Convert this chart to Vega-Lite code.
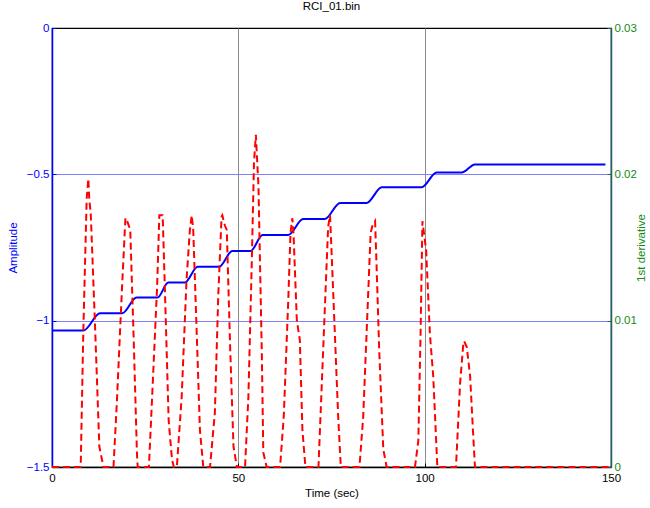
{
  "$schema": "https://vega.github.io/schema/vega-lite/v6.json",
  "width": 559,
  "height": 439,
  "autosize": {"type": "none"},
  "padding": {"left": 52, "top": 28, "right": 39, "bottom": 41},
  "background": "white",
  "title": {
    "text": "RCI_01.bin",
    "fontSize": 11.5,
    "fontWeight": "normal",
    "font": "Liberation Sans",
    "color": "black",
    "offset": 10
  },
  "config": {
    "font": "Liberation Sans",
    "view": {"stroke": "black", "strokeWidth": 1.2},
    "axis": {
      "labelFont": "Liberation Sans",
      "titleFont": "Liberation Sans",
      "labelFontSize": 11.5,
      "titleFontSize": 11.5,
      "titleFontWeight": "normal",
      "labelFlush": false,
      "domainWidth": 1.5,
      "tickWidth": 1,
      "tickSize": -4
    }
  },
  "datasets": {
    "amplitude": [
      {"t": 0, "amp": -1.034},
      {"t": 8.4, "amp": -1.034},
      {"t": 12.9, "amp": -0.975},
      {"t": 18.8, "amp": -0.975},
      {"t": 22.7, "amp": -0.921},
      {"t": 28.3, "amp": -0.921},
      {"t": 31.2, "amp": -0.87},
      {"t": 35.6, "amp": -0.87},
      {"t": 39.1, "amp": -0.816},
      {"t": 44.8, "amp": -0.816},
      {"t": 48.4, "amp": -0.762},
      {"t": 53.3, "amp": -0.762},
      {"t": 56.5, "amp": -0.707},
      {"t": 63.4, "amp": -0.707},
      {"t": 67.4, "amp": -0.653},
      {"t": 73.2, "amp": -0.653},
      {"t": 77.3, "amp": -0.598},
      {"t": 84.4, "amp": -0.598},
      {"t": 88.5, "amp": -0.544},
      {"t": 99.2, "amp": -0.544},
      {"t": 103.2, "amp": -0.494},
      {"t": 109.9, "amp": -0.494},
      {"t": 113.5, "amp": -0.466},
      {"t": 148.5, "amp": -0.466}
    ],
    "derivative": [
      {"t": 0, "d": 0}, {"t": 7.7, "d": 0}, {"t": 8.4, "d": 0.0092}, {"t": 9.3, "d": 0.0183},
      {"t": 9.75, "d": 0.0197}, {"t": 10.0, "d": 0.0183}, {"t": 10.4, "d": 0.0173}, {"t": 11.5, "d": 0.01},
      {"t": 12.7, "d": 0.0014}, {"t": 13.8, "d": 0},
      {"t": 16.5, "d": 0}, {"t": 17.4, "d": 0.0044}, {"t": 18.8, "d": 0.0123}, {"t": 19.7, "d": 0.017},
      {"t": 19.9, "d": 0.017}, {"t": 20.6, "d": 0.0165}, {"t": 21.0, "d": 0.0162}, {"t": 21.9, "d": 0.0089},
      {"t": 22.8, "d": 0.0009}, {"t": 23.0, "d": 0},
      {"t": 26.0, "d": 0}, {"t": 26.8, "d": 0.0044}, {"t": 28.2, "d": 0.0123}, {"t": 28.8, "d": 0.0172},
      {"t": 29.7, "d": 0.0172}, {"t": 30.4, "d": 0.0112}, {"t": 31.3, "d": 0.0032}, {"t": 32.2, "d": 0.0005},
      {"t": 32.7, "d": 0},
      {"t": 33.5, "d": 0}, {"t": 34.8, "d": 0.0048}, {"t": 36.1, "d": 0.0128}, {"t": 37.0, "d": 0.0162},
      {"t": 37.5, "d": 0.0172}, {"t": 37.9, "d": 0.0162}, {"t": 38.8, "d": 0.0094}, {"t": 39.7, "d": 0.0025},
      {"t": 40.6, "d": 0},
      {"t": 42.4, "d": 0}, {"t": 43.7, "d": 0.0037}, {"t": 44.6, "d": 0.0116}, {"t": 45.5, "d": 0.0171},
      {"t": 45.7, "d": 0.0172}, {"t": 46.4, "d": 0.0165}, {"t": 46.9, "d": 0.0162}, {"t": 47.8, "d": 0.0082},
      {"t": 48.7, "d": 0.0014}, {"t": 49.6, "d": 0},
      {"t": 51.8, "d": 0}, {"t": 52.7, "d": 0.0048}, {"t": 53.6, "d": 0.0139}, {"t": 54.2, "d": 0.0208},
      {"t": 54.7, "d": 0.0227}, {"t": 54.9, "d": 0.0217}, {"t": 55.4, "d": 0.0192}, {"t": 56.3, "d": 0.0078},
      {"t": 56.7, "d": 0.001}, {"t": 57.6, "d": 0},
      {"t": 61.2, "d": 0}, {"t": 62.2, "d": 0.0035}, {"t": 63.4, "d": 0.0114}, {"t": 64.0, "d": 0.016},
      {"t": 64.5, "d": 0.017}, {"t": 64.8, "d": 0.016}, {"t": 65.7, "d": 0.01}, {"t": 66.5, "d": 0.0087},
      {"t": 67.2, "d": 0.0025}, {"t": 68.0, "d": 0},
      {"t": 71.5, "d": 0}, {"t": 72.4, "d": 0.0057}, {"t": 73.3, "d": 0.0114}, {"t": 74.1, "d": 0.0164},
      {"t": 74.6, "d": 0.0172}, {"t": 75.0, "d": 0.0148}, {"t": 75.9, "d": 0.0091}, {"t": 76.8, "d": 0.0034},
      {"t": 77.5, "d": 0},
      {"t": 82.5, "d": 0}, {"t": 83.5, "d": 0.0034}, {"t": 84.6, "d": 0.0103}, {"t": 85.5, "d": 0.016},
      {"t": 86.0, "d": 0.0165}, {"t": 86.7, "d": 0.0168}, {"t": 87.1, "d": 0.0137}, {"t": 87.8, "d": 0.008},
      {"t": 88.9, "d": 0.0012}, {"t": 89.8, "d": 0},
      {"t": 97.4, "d": 0}, {"t": 98.3, "d": 0.0018}, {"t": 98.9, "d": 0.0091}, {"t": 99.4, "d": 0.0168},
      {"t": 99.8, "d": 0.016}, {"t": 100.4, "d": 0.0148}, {"t": 101.4, "d": 0.0091}, {"t": 102.3, "d": 0.0062},
      {"t": 103.4, "d": 0},
      {"t": 108.4, "d": 0}, {"t": 109.5, "d": 0.0057}, {"t": 110.4, "d": 0.0085}, {"t": 110.6, "d": 0.0086},
      {"t": 111.3, "d": 0.0082}, {"t": 112.2, "d": 0.0062}, {"t": 113.0, "d": 0.0023}, {"t": 113.5, "d": 0},
      {"t": 150, "d": 0}
    ]
  },
  "layer": [
    {
      "data": {"name": "amplitude"},
      "mark": {"type": "line", "color": "#0000ff", "strokeWidth": 2, "interpolate": "monotone"},
      "encoding": {
        "x": {
          "field": "t",
          "type": "quantitative",
          "scale": {"domain": [0, 150], "nice": false, "zero": false},
          "axis": {
            "title": "Time (sec)",
            "values": [0, 50, 100, 150],
            "format": "d",
            "domainColor": "black",
            "tickColor": "black",
            "labelColor": "black",
            "titleColor": "black",
            "labelPadding": 9,
            "titlePadding": 4,
            "grid": true,
            "gridColor": {
              "condition": {"test": "datum.value === 50 || datum.value === 100", "value": "#8c8c8c"},
              "value": "transparent"
            },
            "gridWidth": 1
          }
        },
        "y": {
          "field": "amp",
          "type": "quantitative",
          "scale": {"domain": [-1.5, 0], "nice": false, "zero": false},
          "axis": {
            "title": "Amplitude",
            "orient": "left",
            "values": [-1.5, -1, -0.5, 0],
            "format": "~g",
            "domainColor": "#0000ff",
            "tickColor": "#0000ff",
            "labelColor": "#0000ff",
            "titleColor": "#0000ff",
            "labelPadding": 7,
            "titlePadding": 8,
            "grid": true,
            "gridColor": {
              "condition": {"test": "datum.value === -1 || datum.value === -0.5", "value": "#8080ff"},
              "value": "transparent"
            },
            "gridWidth": 1
          }
        }
      }
    },
    {
      "data": {"name": "derivative"},
      "mark": {"type": "line", "color": "#ff0000", "strokeWidth": 2, "strokeDash": [7, 4]},
      "encoding": {
        "x": {"field": "t", "type": "quantitative"},
        "y": {
          "field": "d",
          "type": "quantitative",
          "scale": {"domain": [0, 0.03], "nice": false, "zero": false},
          "axis": {
            "title": "1st derivative",
            "orient": "right",
            "values": [0, 0.01, 0.02, 0.03],
            "format": "~g",
            "domainColor": "#1f5f6f",
            "tickColor": "#1f5f6f",
            "labelColor": "#138a13",
            "titleColor": "#138a13",
            "titleAngle": 270,
            "labelPadding": 7,
            "titlePadding": 10,
            "grid": false
          }
        }
      }
    }
  ],
  "resolve": {"scale": {"y": "independent"}}
}
